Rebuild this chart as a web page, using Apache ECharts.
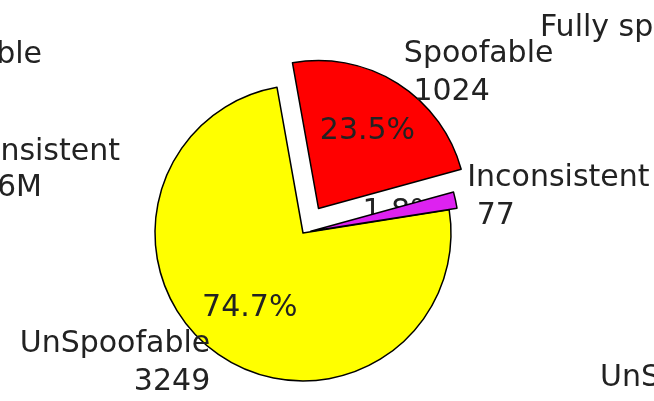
<!DOCTYPE html>
<html>
<head>
<meta charset="utf-8">
<script src="https://cdn.jsdelivr.net/npm/echarts@6/dist/echarts.min.js"></script>
<style>
html,body{margin:0;padding:0;background:#fff;}
#chart{width:654px;height:401px;}
</style>
</head>
<body>
<div id="chart"></div>
<script>
const categories = ['Inconsistent', 'Spoofable', 'UnSpoofable'];
const values = [77, 1024, 3249];
const colors = ['#dd22f0', '#ff0000', '#ffff00'];
const explode = [8, 29, 0];

const R = 148;
const CENTER = [303, 233];
const FONT = 'DejaVu Sans';
const TEXT = '#222';

const series = [];
categories.forEach(function (cat, i) {
  // slice series: item i visible
  series.push({
    type: 'pie',
    center: CENTER,
    radius: R,
    startAngle: 9,
    clockwise: false,
    z: 2,
    silent: true,
    animation: false,
    avoidLabelOverlap: false,
    percentPrecision: 1,
    selectedMode: 'multiple',
    selectedOffset: explode[i],
    label: {
      position: 'outside',
      formatter: '{b}\n {c}',
      fontFamily: FONT,
      fontSize: 30,
      lineHeight: 38,
      color: TEXT,
      distanceToLabelLine: 0
    },
    labelLine: { show: false, length: 12, length2: 0 },
    data: categories.map(function (n, j) {
      const vis = j === i;
      const st = vis ? { color: colors[j], borderColor: '#000', borderWidth: 1.5 }
                     : { color: 'rgba(0,0,0,0)', borderWidth: 0 };
      return {
        name: n, value: values[j],
        selected: vis && explode[i] > 0,
        itemStyle: st,
        select: { itemStyle: st },
        label: { show: vis }
      };
    })
  });
  // percentage label series (0.6 R from the slice centre)
  series.push({
    type: 'pie',
    center: CENTER,
    radius: R * 1.2,
    startAngle: 9,
    clockwise: false,
    z: i === 0 ? 1 : 3,
    silent: true,
    animation: false,
    avoidLabelOverlap: false,
    percentPrecision: 1,
    selectedMode: 'multiple',
    selectedOffset: explode[i],
    label: {
      position: 'inside',
      formatter: '{d}%',
      fontFamily: FONT,
      fontSize: 30,
      color: TEXT
    },
    labelLine: { show: false },
    data: categories.map(function (n, j) {
      const vis = j === i;
      const st = { color: 'rgba(0,0,0,0)', borderWidth: 0 };
      return {
        name: n, value: values[j],
        selected: vis && explode[i] > 0,
        itemStyle: st,
        select: { itemStyle: st },
        label: { show: vis }
      };
    })
  });
});

const chart = echarts.init(document.getElementById('chart'), null, { renderer: 'canvas' });
chart.setOption({
  backgroundColor: '#ffffff',
  animation: false,
  series: series,
  graphic: [
    { type: 'text', style: { text: 'Spoofable', x: 42, y: 55, align: 'right', verticalAlign: 'middle', font: '30px "DejaVu Sans"', fill: TEXT } },
    { type: 'text', style: { text: 'Inconsistent', x: 120, y: 152, align: 'right', verticalAlign: 'middle', font: '30px "DejaVu Sans"', fill: TEXT } },
    { type: 'text', style: { text: '1.6M', x: 42, y: 188, align: 'right', verticalAlign: 'middle', font: '30px "DejaVu Sans"', fill: TEXT } },
    { type: 'text', style: { text: 'Fully spoofable', x: 540, y: 28, align: 'left', verticalAlign: 'middle', font: '30px "DejaVu Sans"', fill: TEXT } },
    { type: 'text', style: { text: 'UnSpoofable', x: 600, y: 378, align: 'left', verticalAlign: 'middle', font: '30px "DejaVu Sans"', fill: TEXT } }
  ]
});
</script>
</body>
</html>
